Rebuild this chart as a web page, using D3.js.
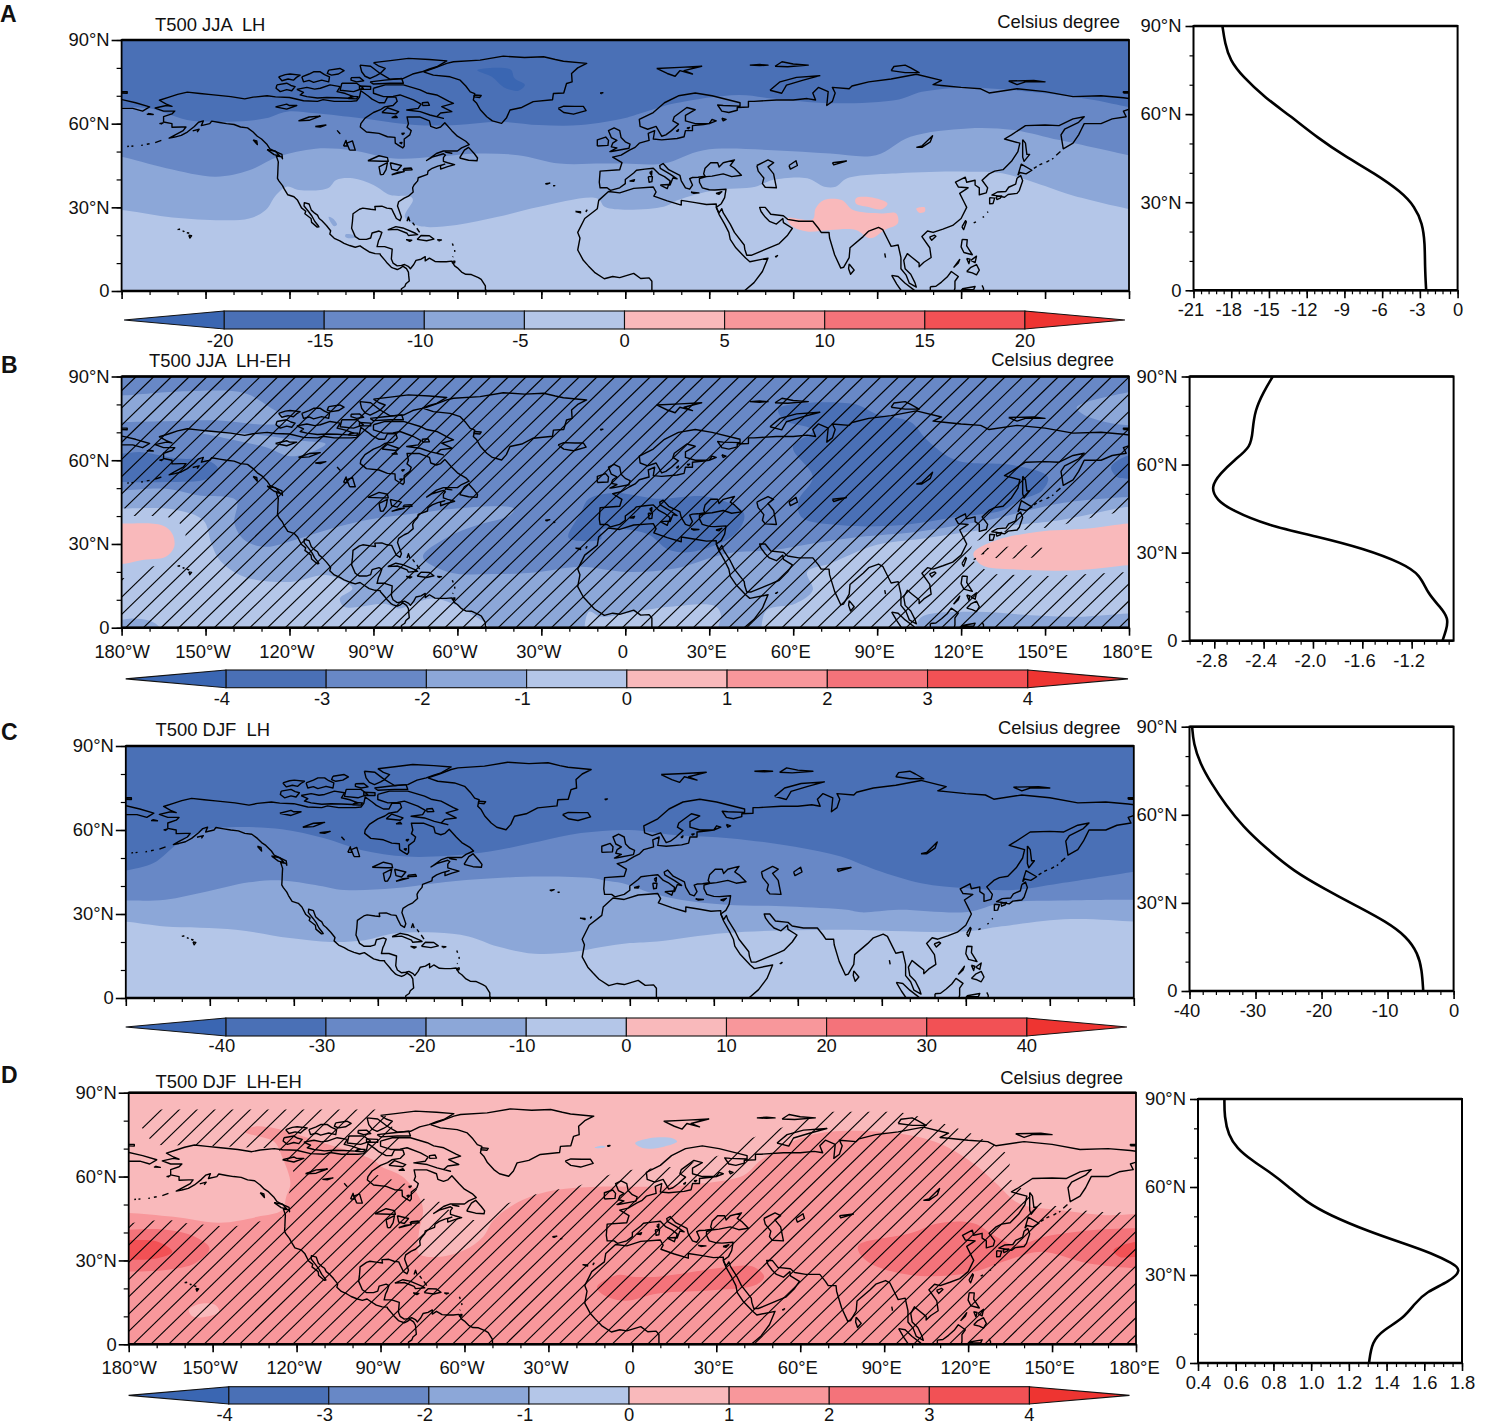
<!DOCTYPE html>
<html><head><meta charset="utf-8">
<script src="https://d3js.org/d3.v7.min.js"></script>
<style>
html,body{margin:0;padding:0;background:#fff}
text{font-family:"Liberation Sans",Arial,sans-serif;fill:#111;white-space:pre}
</style></head><body><div id="chart"></div>
<script>
// ---------- colour levels (tip, 8 bands, tip)
const levelColors=['#3a66b2','#4a70b6','#6888c6','#8ca7d8','#b4c6e8','#f9b9bb','#f8979b','#f4737a','#f25155','#ee3431'];
const DK=1,MD=2,ML=3,LT=4,P1=5,P2=6,P3=7,P4=8;

// ---------- coastlines [lon,lat]
const coastAmericas=[[-80.1,0],[-80,0.8],[-78.8,1.6],[-78.4,2.6],[-77.2,3.6],[-77.4,5.5],[-77.5,6.8],[-78.2,8],[-79.5,8.9],[-80.4,8.2],[-81.5,7.7],[-82.9,8.2],[-83.6,8.5],[-85.1,10],[-85.7,10.8],[-87.5,12.9],[-87.6,13.3],[-89.4,13.4],[-91.5,14],[-93.5,15.3],[-94.8,16.2],[-96.5,15.7],[-98.5,16.3],[-100.5,17.1],[-102,18],[-104,18.9],[-105.6,20.4],[-105.3,21.6],[-106.8,23.5],[-108.4,25.2],[-109.4,26],[-110,27.2],[-111,27.9],[-112.2,29],[-113,31.2],[-114.7,31.7],[-114.8,30.5],[-113.2,28.5],[-112,26.9],[-111,25],[-109.8,23.5],[-109.5,23],[-110.1,22.9],[-112.1,24.6],[-112.3,26],[-114.5,27.7],[-114.2,28.6],[-115.7,29.8],[-117.1,32.5],[-118.4,33.8],[-120.6,34.5],[-121.9,36.6],[-122.5,37.8],[-123.8,39.5],[-124.3,40.4],[-124.2,42],[-124.1,44.5],[-124,46.3],[-124.7,48.4],[-122.8,48.1],[-122.5,47.4],[-122.7,49],[-124.9,50],[-127,51],[-128,52.5],[-130,54.5],[-131.5,55.5],[-133,57],[-135,58.5],[-137.5,58.8],[-139.8,59.7],[-142.5,60],[-145,60.4],[-147.8,60.9],[-148.5,60],[-151.5,59.3],[-150.8,61],[-152.5,60.5],[-154,59],[-156.5,57],[-158.7,55.8],[-161,55.2],[-163,54.8],[-161,55.9],[-158,57.5],[-157,58.8],[-158.5,58.8],[-162,58.7],[-162,60],[-165,60.6],[-165,62.5],[-162,63.5],[-161,64.5],[-165,64.5],[-168,65.6],[-164,66.5],[-162,66.2],[-164,67],[-166.5,68.4],[-163,69.5],[-160,70.5],[-156.5,71.3],[-152,70.8],[-148,70.4],[-141,69.7],[-136,68.9],[-133,69.5],[-128,70],[-125,69.6],[-120,69.4],[-115,68.2],[-110,68],[-108,68.6],[-104,68],[-98,68],[-96,68.2],[-95,69.5],[-94.5,71.8],[-92,70],[-90.5,68.8],[-88,67.5],[-86,67.5],[-85,69.5],[-82,69.5],[-81.5,68],[-83,66.5],[-86,66],[-87.5,65],[-90,64],[-93,62],[-94.5,60],[-94.7,58.8],[-92.5,57],[-88,56.5],[-85,55.3],[-82.3,55.1],[-82.2,53],[-81,52.2],[-79.5,51.3],[-79,52],[-79,54.5],[-77,56],[-76.5,57.5],[-78,58.7],[-77.5,60],[-78,62.4],[-73.5,62.4],[-70,61],[-69.5,59],[-67.5,58.3],[-66,58.8],[-64.5,60.3],[-62,57.5],[-60,55.5],[-57,53.7],[-55.8,52.5],[-58.5,51.3],[-60,50.2],[-65,50.2],[-67.5,49.3],[-70,47.5],[-71,46.8],[-69,48],[-65,49.2],[-64.3,48.7],[-65,47.8],[-65,46.5],[-63.5,46],[-61,45.3],[-63.5,44.6],[-66,43.7],[-66,45],[-64.5,45.5],[-67,44.8],[-69,44],[-70.5,43],[-70.7,41.8],[-74,40.6],[-74.2,39.5],[-75.5,38],[-76,37],[-75.8,35.5],[-77.5,34],[-79,33.3],[-81,32],[-81.4,30.5],[-80.5,28],[-80,26.5],[-80.5,25.2],[-81.8,26],[-82.8,28],[-83.5,29.5],[-85.2,29.7],[-87,30.4],[-89.5,30.3],[-89.3,29.1],[-91,29.3],[-93.8,29.7],[-95,29.3],[-97.3,27.7],[-97.5,25],[-97.8,22.5],[-96.5,19.5],[-95,18.5],[-92.5,18.5],[-91,19],[-90.5,20.8],[-88,21.5],[-87,21],[-87.7,19],[-88.2,18],[-88.7,15.9],[-86,15.9],[-83.3,15],[-83.6,11.5],[-83,10],[-81.5,9],[-80,9.2],[-78.9,9.5],[-77.4,8.7],[-76.8,8],[-75.6,9.5],[-74.8,11],[-73,11.4],[-71.5,12.3],[-71.5,10.8],[-70,11.8],[-68,10.6],[-66,10.5],[-64,10.5],[-62,10.7],[-61,9],[-60,8.3],[-58.5,6.8],[-57,6],[-55,5.9],[-52.5,4.8],[-51.5,4.2],[-50,1.8],[-50,0.5],[-49.5,0]];
const coastEurasia=[[32.5,30],[34.3,31.3],[35.5,33.5],[36,36.5],[32,36.2],[30,36.3],[27.5,37],[26.5,39],[26.5,40.3],[29,41],[31,41.2],[35,42],[38,41],[41.5,41.5],[39,44],[37.5,45],[39,47],[35,46],[33.5,44.5],[33,46],[30.5,46],[28.5,44],[28,42],[28.5,41.2],[26,40.8],[24,40.7],[23,40.3],[24,38],[23,36.5],[21.5,37],[20,39.5],[19.5,41.5],[15.5,43.5],[13.5,45.7],[12.3,45],[12.5,44],[16,41.9],[18.5,40.2],[17,40.5],[16,38],[15.7,38],[16,39.5],[14,41],[12,42],[10,44],[7,43.7],[4,43.3],[3,42.3],[0,40],[0,38.5],[-2,37],[-5.3,36.1],[-6.5,37],[-9,37],[-9.3,39],[-9,43],[-2,43.5],[-1.2,46],[-4.5,48],[-1.5,48.7],[1.5,50.5],[3.5,51.5],[5,53],[8.5,54],[8.2,56.5],[10.5,57.5],[10,54.5],[13,54.2],[18.5,54.7],[21,55.3],[21.5,57.5],[24,57.5],[24,59.3],[28,59.7],[30,60],[25,60],[21.5,61],[21.5,63],[25,65],[22,65.8],[17.5,62.5],[17,61],[19,59.8],[16.5,57.5],[14.5,56],[13,55.5],[11,59],[8,58],[5.3,59],[5,61.5],[10,64],[14,67.5],[19,70],[25,71],[31,70],[41,67.5],[41,66.3],[35,66.5],[33,66.7],[34.5,64.5],[37,64],[40,64.8],[40,65.8],[44,66],[44,68],[46,68],[54,68.5],[60,68.5],[65,69],[68,68.5],[67,71],[69,73],[72.5,71.5],[72,66.5],[74,68],[75,71],[74,73],[80,72.5],[81,73.5],[87,75],[95,76],[104,77.7],[113,75.5],[110,74],[113,73.7],[120,73],[127,72.5],[130,71],[140,72.5],[150,71.5],[160,69.7],[170,70],[178,69.3],[181,68.9]];
const coastChukotkaWest=[[-181,68.9],[-175,67.5],[-170,66],[-172.5,64.5],[-176,65.5],[-181,65.5]];
const coastPacificAsia=[[181,65.5],[178,64.5],[179,62.5],[174,61.7],[170,60],[164,60],[163,58],[162,56],[160,53],[156.5,51],[155.7,56],[157,58],[162,60.5],[164,62.5],[160,61.7],[155,59.3],[150,59.5],[143,59.3],[138,56],[135.5,54.5],[141,53],[140.3,50],[138,46.5],[135,43.5],[132,43],[130,42],[127.5,39.7],[129.5,37],[129,35.2],[126.5,34.5],[126.5,37],[125,38],[125,39.7],[122,39],[121.5,40.8],[118,39],[119,37.3],[122.5,37],[119.5,35],[121,32],[122,30],[120,26],[117,23.5],[113.5,22.2],[110,21],[108,21.5],[106,19.5],[108.8,15.5],[109.3,12],[106.7,10.3],[105,8.7],[105,10],[102.5,12],[100.8,13.4],[99.5,11],[100,8],[102,6],[103.5,3],[104,1.4],[101.5,2.8],[100.3,5.8],[98.5,8],[98.5,12],[97.5,16.5],[95,16],[94,18],[92,22],[90.5,22.8],[87,21.5],[85,19.5],[80.3,15.5],[80,12],[78,8.5],[77,8.2],[74.8,13],[73,19],[72.8,21],[70,21],[69,22.5],[67,25],[62,25],[58,25.7],[56.5,27],[52,27.5],[50,30],[48,30],[48.5,28.5],[50,26.5],[51.5,25],[54,24],[56.3,26],[56.5,24.5],[59.7,22.5],[58,20],[55,17],[52,15.7],[45,12.8],[43.4,12.8],[42.7,15],[42.5,16.5],[39,21],[37.5,24],[35,28],[34.5,29.5],[33.5,28],[32.5,30]];
const coastAfrica=[[42.5,0],[46,3],[49,7],[51,11.8],[44.5,10.5],[43,11.8],[39.5,15.5],[37.5,18.5],[37,21],[35.5,24],[33.5,27.5],[32.5,30],[32.5,31.2],[29,31],[25,31.7],[20,32.5],[20,30.8],[15,32.3],[10.2,34],[11,35.5],[10,37.3],[3,36.8],[-2,35.2],[-6,35.7],[-9.5,32.5],[-10,29.5],[-14.5,26],[-17,21],[-16.2,19],[-17,14.7],[-15,11],[-13.2,9],[-11,6.7],[-7.5,4.4],[-4.5,5.2],[-2,4.8],[3,6.3],[5.5,4.5],[8.5,4.7],[9.5,3.5],[9.5,0]];
const islandsArctic=[
 [[-123.9,76.8],[-121.5,77.6],[-119.8,77.8],[-116.2,77.4],[-117.5,76.6],[-118.6,75.6],[-120.5,76],[-122.7,75.4],[-123.9,76.8]],
 [[-115.6,76.8],[-113,77.8],[-111.4,78.6],[-109,78.6],[-107.5,77.6],[-105.7,76.8],[-106,75],[-108.5,75.6],[-111.4,74.8],[-113,75.5],[-115,75],[-115.6,76.8]],
 [[-124.5,73.9],[-121,74.5],[-119.5,73.7],[-118,73.3],[-119.2,71.8],[-121,72.2],[-123.3,71.5],[-124.8,72.7],[-124.5,73.9]],
 [[-117.4,72.3],[-113.8,73],[-111,72.4],[-109,72.7],[-105.5,73.9],[-101.9,73.3],[-103,71.5],[-100,70.8],[-97.1,69.7],[-99,69.1],[-103,69.3],[-106.7,69.4],[-110,69.2],[-113.8,69.7],[-116.2,70.3],[-115,71.2],[-117.4,72.3]],
 [[-106,79.2],[-102,79.8],[-100.5,79],[-102.5,77.8],[-105,77.4],[-106.5,78],[-106,79.2]],
 [[-94.8,81],[-91,80.6],[-87.6,78],[-89,77.2],[-91.2,76.2],[-93,77],[-94.2,78.6],[-94.8,81]],
 [[-90,81.9],[-84,82.6],[-77.5,83.4],[-70,83],[-63.8,82.5],[-67.4,80.4],[-70,79.6],[-72.7,78.6],[-76,77.8],[-79.3,76.2],[-84,75.9],[-87.6,78],[-85.8,79.8],[-88,80.6],[-90,81.9]],
 [[-91.2,75],[-86,75.6],[-79.9,76.2],[-79.3,74.5],[-84,74.5],[-90,74.2],[-91.2,75]],
 [[-98,76.5],[-95,76.6],[-93.5,75.4],[-96,75],[-98,75.6],[-98,76.5]],
 [[-101.3,74.5],[-96,74.5],[-93.6,72.7],[-97.1,71.5],[-101.9,72],[-101.3,74.5]],
 [[-90,72.7],[-85.8,73.9],[-79.3,73.9],[-73.3,72.1],[-71,71],[-67.4,70.3],[-63,68],[-61.4,67.3],[-65.6,66.1],[-62,64.3],[-66,63.8],[-67.4,62.5],[-65,61.9],[-69.8,63.1],[-73.3,64.3],[-78.1,64.9],[-74,65.5],[-73,67],[-75.7,68.5],[-80.5,70.3],[-83,69.8],[-86.4,69.7],[-90,70.9],[-90,72.7]],
 [[-72.5,66.5],[-70,66.6],[-70.5,67.7],[-72.5,67.5],[-72.5,66.5]],
 [[-95,72.3],[-91,72.3],[-91,73.3],[-95,73.5],[-95,72.3]],
 [[-87,64],[-82,63.5],[-81,64.3],[-85,65.7],[-87,64]],
 [[-99,69],[-96,68.9],[-95.5,69.7],[-98,69.8],[-99,69]],
 [[-83.5,62.2],[-82,62.8],[-81.5,62.2],[-83.5,62.2]],
 [[-80.7,53.2],[-79.8,53.3],[-80,52.8],[-80.7,53.2]],
 [[-80,56.5],[-79,56.6],[-79.5,56.1],[-80,56.5]],
 [[-72.1,78.6],[-68.6,77.4],[-62.6,76.8],[-59,75.6],[-57,73.5],[-55.4,71.4],[-53.8,70.8],[-54.3,68.5],[-53.1,67.3],[-51.8,65],[-49.5,62.5],[-47.5,61],[-44.2,60.1],[-42.5,62],[-41.2,64.9],[-37,65.8],[-32.9,67.9],[-26,68.6],[-25.7,70.8],[-22,71],[-21,74.4],[-19,75],[-19.2,78],[-17,80],[-13.8,81.6],[-22.1,82.4],[-25,83],[-29.2,84],[-36,83.7],[-43.6,84.2],[-51.9,82.8],[-61.4,82.2],[-63.8,81.6],[-68,80],[-72.1,78.6]],
 [[-54,70.3],[-51.5,70.1],[-52,69.4],[-54,69.6],[-54,70.3]],
 [[-24,65.5],[-22,64],[-18.5,63.4],[-14,64.7],[-15,66.2],[-18,66.2],[-22,66.3],[-24,65.5]],
 [[-9,71],[-8,71.1],[-8.5,70.8],[-9,71]],
 [[11.2,79.8],[15,78],[17.8,77],[19.5,79],[24,77.8],[21,79],[27.3,80.6],[19.5,80.2],[11.2,79.8]],
 [[51.7,72],[55.3,75],[61.2,76.6],[69.5,77.2],[63.6,75.6],[57.6,73.8],[55.9,70.9],[51.7,72]],
 [[44.5,81],[48,80.8],[51,81],[48,81.2],[44.5,81]],
 [[53.5,80.6],[58,80.4],[65.4,81],[60,81.4],[56,82.2],[53.5,80.6]],
 [[95,79],[100,78.3],[105,78.3],[102,80],[100,81],[96,80.5],[95,79]],
 [[137,75.3],[140,74],[143,75],[150,75],[146,75.5],[137,75.3]],
 [[-181,71],[-178,70.9],[-178,71.5],[-181,71.5]],
 [[178,71],[181,71],[181,71.5],[178,71.5],[178,71]]];
const islandsAtlanticEurope=[
 [[-59.2,47.7],[-56,46.9],[-53,46.7],[-52.8,47.7],[-54,49.3],[-56,51.5],[-57.5,50.5],[-59.2,47.7]],
 [[-64.5,49.9],[-62,49.4],[-63.5,49.6],[-64.5,49.9]],
 [[-5,50],[1.3,51.2],[1.7,52.7],[0,53.5],[-1.5,55],[-2,57.5],[-4,58.5],[-6,57.5],[-5,55],[-3,54],[-4.5,53],[-5,51.7],[-3,51.3],[-5.5,50],[-5,50]],
 [[-10,52],[-6.2,52.2],[-6,54],[-7,55.2],[-10,54.2],[-10,52]],
 [[12.5,38],[15.5,38.2],[15,36.7],[12.5,38]],
 [[8.2,41],[9.7,41],[9.5,39.2],[8.5,39],[8.2,41]],
 [[8.7,42.5],[9.5,43],[9.4,41.5],[8.7,42.5]],
 [[1.5,39.4],[3.3,39.9],[3,39.3],[1.5,39.4]],
 [[23.5,35.4],[26.3,35.2],[24.5,35],[23.5,35.4]],
 [[32.4,35],[34.5,35.6],[33.5,34.7],[32.4,35]],
 [[18.2,57.3],[19,57.9],[18.8,57.3],[18.2,57.3]],
 [[22,58.5],[23,58.6],[22.5,58.2],[22,58.5]],
 [[-17.8,28.5],[-16,28.4],[-16,28],[-17.8,28.5]],
 [[-14,28.9],[-13.7,29],[-14,28.5],[-14,28.9]],
 [[-28.6,38.5],[-27,38.7],[-28,38.3],[-28.6,38.5]],
 [[-25.8,37.8],[-25.2,37.8],[-25.5,37.7],[-25.8,37.8]],
 [[54,12.5],[54.4,12.7],[54,12.3],[53.7,12.3],[54,12.5]]];
const islandsCaribPacific=[
 [[-84.9,21.9],[-82,23.1],[-79.5,22.6],[-75,20.7],[-74.2,20.2],[-77.5,19.9],[-78,20.7],[-81.5,22.1],[-84.9,21.9]],
 [[-74.4,18.5],[-73,19.9],[-70,19.8],[-68.4,18.6],[-71,18],[-74.4,18.5]],
 [[-78.3,18.4],[-76.3,18.2],[-77,17.8],[-78.3,18.4]],
 [[-67.2,18.4],[-65.7,18.3],[-66.5,18],[-67.2,18.4]],
 [[-61.8,17],[-61.5,16.2]],[[-61,14.7],[-60.9,14]],[[-61.7,12.2],[-61.5,12.4]],
 [[-61.5,10.7],[-60.9,10.7],[-61,10.1],[-61.8,10.1],[-61.5,10.7]],
 [[-78,25],[-77.5,26.5],[-77,25]],
 [[-76,24.5],[-75.3,23.5]],[[-74.5,22.5],[-73.5,21]],
 [[-160,22],[-159.3,22.2],[-159.4,21.9]],
 [[-158.2,21.5],[-157.7,21.4],[-158,21.3]],
 [[-156.7,20.9],[-156,20.8],[-156.4,20.6]],
 [[-156,20],[-155,19.8],[-155.6,19],[-156,20]],
 [[-176.5,51.9],[-175.8,52]],[[-178,51.8],[-177.4,51.9]],[[-173,52.2],[-172.4,52.3]],[[-171,52.6],[-170,52.8]],[[-168,53.2],[-165.8,54]],
 [[-154.6,57.4],[-152.3,58],[-153,57]],
 [[-133,54.2],[-131.7,53.8],[-131.5,52.5],[-133,54.2]],
 [[-128,50.7],[-125,50.1],[-123.5,48.4],[-125.5,48.9],[-128,50.7]],
 [[-170.5,63.7],[-168.7,63.3],[-171,63.4]],
 [[-166.5,60],[-165.2,60.3],[-166,59.8]]];
const islandsAsia=[
 [[142,54.3],[143,53],[143.5,49],[144.5,49],[142.5,46.5],[142,48],[142,51],[142,54.3]],
 [[140.3,41.5],[141.5,45.5],[145.3,43.3],[143.2,42],[141,42.5],[140.3,41.5]],
 [[140,40.5],[141.3,41.4],[142,39.5],[140.8,36],[140,35],[136.8,34.6],[135.5,33.6],[132.5,34.2],[131,34.4],[133,35.5],[136,35.7],[137,37.2],[139.5,38.3],[140,40.5]],
 [[130.2,33.5],[132,33.3],[131.4,31.4],[130.2,31.3],[130.2,33.5]],
 [[132.5,33.8],[134.5,34.1],[134,33.3],[132.8,32.8],[132.5,33.8]],
 [[146,44],[147,44.6]],[[148,45.2],[149,45.7]],[[150.5,46.2],[151.5,46.8]],[[152.5,47.3],[153,47.6]],[[154,48.7],[155.5,50]],
 [[127.7,26.4],[128.2,26.7]],[[129.3,28.2],[129.7,28.4]],[[124.5,24.4],[125.3,24.8]],
 [[120.3,23],[121.6,25.2],[121.9,24.8],[120.9,22],[120.3,23]],
 [[108.7,19.3],[110.5,20],[111,19.6],[109.5,18.2],[108.7,19.3]],
 [[120.4,18.5],[122.2,18.4],[122,16.2],[124,13],[121,13.8],[120,15.8],[120.4,18.5]],
 [[123.5,11],[125.5,12.5],[125,10.2],[123.5,11]],
 [[122,11.7],[123.2,11.4],[122.8,9.8],[122,11.7]],
 [[122,7],[123.5,8.5],[125.5,9.5],[126.5,7.5],[125.5,5.8],[124,6.5],[122,7]],
 [[117.3,8.4],[119.5,11.3],[119,10],[117.3,8.4]],
 [[109,1.5],[111,1.7],[113,3.2],[115,5],[116.5,7],[119,5.2],[117.8,3.5],[117.8,1],[117.5,0]],
 [[109,0],[109,1.5]],
 [[95.2,5.6],[97.5,5.2],[100,2.8],[103,0.5],[103.5,0]],[[98.7,0],[97,2.5],[95.2,5.6]],
 [[120,0],[120.5,0.8],[125,1.6],[124.5,0.5],[120,0.5]],
 [[127.5,2],[128,1],[128,0]],
 [[80,9.7],[81.8,7.5],[80.5,6],[79.8,8],[80,9.7]],
 [[92.7,13.5],[93,12]]];
const lakes=[
 [[47,45],[51,47],[53,46],[51,44.5],[53,42],[53.5,39.5],[54,37],[50,37.2],[49,38.5],[49.5,40.5],[47.5,43],[47,45]],
 [[58.5,45],[61,46.7],[61.5,45],[59,43.7],[58.5,45]],
 [[104,51.5],[106,52],[109.8,55.7],[109,53.5],[106,51.5],[104,51.5]],
 [[74,46],[79,46.6],[74.5,45.2],[74,46]],
 [[30,60],[32.5,61],[31,61.5],[30,60]],[[34.5,62],[36,61.5],[35,61],[34.5,62]],
 [[-92,46.7],[-88,48.5],[-85,47.8],[-84.7,46.5],[-87,46.5],[-92,46.7]],
 [[-87.5,41.7],[-88,44.5],[-85,46],[-85.5,43.5],[-86.5,41.8],[-87.5,41.7]],
 [[-84,46],[-80,45],[-81.5,43.2],[-83.5,43.7],[-84,46]],
 [[-83.5,41.7],[-79,42.8],[-81,42.6],[-83.5,41.7]],
 [[-79.5,43.3],[-76.2,43.5],[-76.5,44.1],[-79,43.9],[-79.5,43.3]],
 [[-98.5,50.5],[-96.5,50.5],[-97.5,53.8],[-99.5,53],[-98.5,50.5]],
 [[-100.7,52],[-99.8,54],[-99.3,52],[-100.7,52]],
 [[-116.8,61],[-113,61.2],[-109,62.7],[-113,62.4],[-116.8,61]],
 [[-125,66],[-121,65.2],[-117.4,66.5],[-120,66.5],[-121,67],[-125,66]],
 [[-110.8,59],[-107,59.5],[-109,58.8],[-110.8,59]],
 [[-103,57.6],[-102,56.5],[-102.5,57]]];
const allCoasts=[coastAmericas,coastEurasia,coastChukotkaWest,coastPacificAsia,coastAfrica,...islandsArctic,...islandsAtlanticEurope,...islandsCaribPacific,...islandsAsia,...lakes];

// ---------- panel A contours
const aBound5=[[-186,29],[-180,29],[-164,26.6],[-146.3,25.4],[-134.4,26],[-128.5,29],[-124.8,34.4],[-121,37.4],[-116.6,36.2],[-106.3,36.8],[-103.3,39.8],[-97.4,40.4],[-90,38],[-84,34.4],[-76.6,33.8],[-75.9,32.6],[-78.8,26.6],[-73.6,23.3],[-60.3,23.7],[-45.5,26.6],[-30.7,30.2],[-10,33.2],[-7,30],[13.7,30.2],[18.9,32.6],[32.2,36.2],[46.5,37.4],[52.7,39.8],[65,40.4],[71.1,37.4],[75.2,37.4],[79.3,40.4],[97.8,42.2],[122.4,42.8],[134.7,42.2],[147,38.6],[159.3,34.4],[180,29.4],[186,28.5]];
const aBound10=[[-186,49],[-180,48.1],[-164,44],[-146.3,41],[-134.4,43.3],[-124,48.1],[-110.7,51],[-97.4,50.4],[-82.6,47.5],[-67.8,48.1],[-53,49.3],[-38.3,48.7],[-23.5,45.7],[-8.4,45.7],[-0.6,45.7],[13.7,45.7],[28,50.5],[52.7,50.5],[73.2,49.3],[89.6,48.7],[101.9,55.3],[122.4,58.3],[138.8,57.7],[155.2,54.1],[179.8,48.7],[186,47.5]];
const aBound15=[[-186,66.5],[-180,66],[-170,65.5],[-164,63.7],[-156.6,61.3],[-141.8,60.7],[-128.5,61.9],[-121,64.3],[-110.7,63.7],[-94.4,61.9],[-75,59.5],[-60.3,59.5],[-45.5,60.7],[-30.7,59.5],[-15.9,59.5],[0,62],[5.5,63.7],[17.8,67.3],[40.4,70.3],[52.7,69],[73.2,67.3],[97.8,68.7],[106,71.4],[122.4,73],[134.7,72.3],[151,70.8],[167.5,68.5],[179.8,66],[186,65]];
const aGreenlandCore=[[-52.9,79.2],[-41,79.4],[-39.6,76.3],[-35.9,73.9],[-38.2,71.8],[-43.3,73],[-47.7,76.8]];
const aMexicoSpotN=[[-106,26.6],[-104.5,26],[-103,23.8],[-104,23.2],[-105.5,25]];
const aMexicoSpotS=[[-100,20.3],[-97.5,20.2],[-96.5,19.4],[-98.5,18.9],[-100,19.4]];
const aPinkMain=[[57.8,26],[67,25.7],[68,29.6],[71,32.6],[77.3,32.6],[81.4,29],[91.6,27.8],[96.8,27.8],[97.4,24.3],[92.7,21.9],[87.5,18.9],[82.4,21.9],[73.2,21.9],[65,21.3],[59.9,23]];
const aPinkNorth=[[82.4,33.2],[87.5,33.6],[93.7,31.4],[91.6,29.3],[86.5,30.2],[82.4,31.4]];
const aPinkEast=[[104,29.6],[107,30],[107,28.4],[105,28.1]];

// ---------- panel B contours
const bRegion3=[[-186,96],[186,96],[186,46.8],[179.8,46.8],[155.2,44.5],[134.7,39.7],[122.4,37.3],[103.9,34.3],[83.4,32.5],[67,30.2],[52.7,27.8],[36.3,26.6],[17.8,21.2],[0,20],[-16,21.8],[-30.8,20],[-45.6,19.2],[-63.4,20],[-72.3,25.4],[-63.4,32.5],[-53,36.7],[-41.2,40.3],[-39.7,42.7],[-47.1,43.5],[-60.4,42.7],[-75.3,40.9],[-93,38.5],[-104.9,35.5],[-116.7,31.9],[-128.6,29],[-136,31.3],[-139.7,37.3],[-139,45.6],[-152.3,47.4],[-164.2,49.8],[-180,49.2],[-186,49.2]];
const bLightWest=[[-186,42.7],[-180,42.7],[-161,42.3],[-150.8,38.5],[-147.9,30.2],[-144.9,24.2],[-136,18.2],[-119.7,16.4],[-106.4,18.8],[-97.5,14.1],[-102,10.5],[-100.4,7.5],[-85.6,8.5],[-81.2,6.9],[-69.3,10.5],[-60.4,8.1],[-55.3,5.1],[-48.6,0],[-48.6,-6],[-166.4,-6],[-166.4,0],[-170,2.5],[-176,3.3],[-186,3.3]];
const bLightEast=[[186,43.3],[179.8,43.3],[155.2,38.5],[138.8,36.7],[122.4,34.3],[106,31.9],[89.6,29.6],[73.2,23],[65,20],[67,13.5],[60.9,8.7],[50.6,6.3],[48.6,0],[48.6,-6],[103.9,-6],[103.9,0],[106,3.9],[124.4,5.7],[144.9,4.5],[161.3,3.9],[179.8,5.1],[186,5.1]];
const bLightAfrica=[[-13,5.7],[-8.6,3.9],[0,5.1],[15.8,7.5],[32.2,7.7],[34.2,4.5],[33.2,0],[33.2,-6],[-13,-6]];
const bMidArcticWest=[[-186,83.2],[-180,83.2],[-156.7,84.7],[-136,84],[-127,79],[-119.7,73.7],[-128.6,72.8],[-146.4,74.3],[-164.2,74],[-180,73.7],[-186,73.7]];
const bMidAlaska=[[-152.3,70],[-134.5,69.5],[-116.7,67.1],[-107.1,65.9],[-110.8,63.5],[-119.7,61.4],[-128.6,64.7],[-143.4,68]];
const bMidSiberia=[[161.3,79],[179.8,84.4],[186,85],[186,72.5],[179.8,72.5],[171.6,73.7],[163.4,76.6]];
const bDarkGulf=[[-186,62.3],[-180,62.3],[-173,62.9],[-159.7,60.6],[-149.3,60],[-145.6,57],[-149.3,53.4],[-164.2,52.2],[-180,52.2],[-186,52.2]];
const bDarkDateline=[[186,61.7],[179.8,61.7],[173.6,57.6],[175.7,54],[179.8,53.4],[186,53.4]];
const bDarkEurasia=[[54.7,78.4],[81.4,80.2],[89.6,76.6],[101.9,73.7],[108,67.1],[118.3,60],[138.8,58.2],[151,54],[149,49.2],[140.8,45.6],[134.7,42],[118.3,39.7],[97.8,36.7],[77.3,36.7],[62.9,39.7],[61.9,45.6],[67,54],[59.9,64.7],[67,70.7],[56.8,74.3]];
const bDarkEurope=[[-20.4,32.5],[-16,40.9],[-13,46.2],[-4.1,48.3],[0,48],[11.7,46.2],[30.1,46.8],[42.4,40.9],[39.4,33.7],[24,27.2],[15.8,27.8],[7.6,33.7],[-8.8,34.9],[-8.6,31.9],[-18.2,31.3]];
const bPinkWest=[[-186,37.3],[-180,37.3],[-165.6,36.7],[-161.9,33.7],[-161.2,29],[-164.2,25.4],[-173,24.2],[-180,22.8],[-186,22.8]];
const bPinkEast=[[186,37.3],[179.8,37.3],[165.4,35.5],[147,34.3],[132.6,31.3],[124.4,26.6],[127.5,22.4],[138.8,20.9],[161.3,20.6],[179.8,22.4],[186,22.4]];
const bHatchGapWest=[[-186,44],[-180,44],[-176.6,40],[-164.4,40],[-159.6,38],[-157.2,33.9],[-156.9,27.8],[-161.4,23.3],[-169.1,21.9],[-176.9,17.1],[-180,18],[-186,18]];
const bHatchGapEast=[[186,42.1],[179.8,42.1],[165.4,39.1],[153,36.1],[134.7,34.2],[124.4,30.7],[122.4,25.4],[130.6,19.2],[151,18.5],[179.8,20],[186,20]];
const bHatchBack=[[126.5,28.4],[145,29.6],[150,28.4],[149,25.2],[133.7,24.6],[126.5,26.4]];

// ---------- panel C contours
const cBound10=[[-186,27.2],[-180,27.2],[-165.9,25.5],[-140.7,24.4],[-121.4,21.4],[-106.6,20],[-94.7,20.6],[-84.2,23],[-69.4,23.4],[-57.6,22],[-47.2,18.4],[-33.9,15.8],[-20.5,16.4],[-10.1,18.2],[0,19.6],[9.8,20.2],[34.4,23.2],[71.3,24.4],[120.5,23.8],[132.8,25.6],[157.4,28.2],[180,27.3],[186,27]];
const cBound20=[[-186,34.8],[-180,34.8],[-165.9,35.1],[-151,38],[-136,41.3],[-124.2,42],[-112.3,40.4],[-102,38.6],[-84.2,39.2],[-69.4,41],[-54.5,42.4],[-32.3,43.4],[-13,42.8],[-9,42],[-2.5,41],[7.8,37.5],[18,35.1],[34.4,33.3],[57,32.7],[77.5,31.5],[82.6,30.6],[95.9,31.5],[120.5,30.7],[132.8,33.9],[153.3,34.8],[180,35.1],[186,35]];
const cBound30=[[-186,44.5],[-180,45.5],[-170.1,48.2],[-161.2,55.3],[-152.3,59.8],[-142.7,61],[-124.2,60.3],[-109.4,57.1],[-96,52.9],[-79.7,50.5],[-64.9,50.8],[-50.1,52.3],[-32.3,55.9],[-17.5,58.9],[0,60],[16,58.2],[36.5,57],[59,54],[75.4,50.5],[87.7,45.8],[104.1,41],[120.5,39.2],[136.9,38.6],[153.3,40.9],[180,45.1],[186,46]];

// ---------- panel D contours
const dRegion2=[[-186,47],[-180,47],[-164,45.6],[-147.4,43.5],[-134,45.6],[-125.2,48],[-123.7,52.8],[-122.2,57.6],[-125.2,67.1],[-128.1,72.5],[-138.5,76],[-135.5,77.8],[-127.4,77.2],[-112,72.5],[-92.6,65.9],[-89.6,63.5],[-82.2,60],[-76.3,52.8],[-74.8,48],[-76.3,39.7],[-76.3,32.5],[-68.9,31.3],[-60,33.7],[-53.3,38.5],[-49.6,44.5],[-39.3,51.6],[-27.4,55.2],[-12.6,56.4],[9.2,56.4],[25.6,57.6],[39.9,60.5],[46,65.9],[58.4,73],[70.7,76],[95.2,75.4],[109.6,71.9],[121.9,64.7],[130,57.6],[138.2,50.4],[152.6,48],[169,46.2],[180,46.6],[186,46.6],[186,-6],[-186,-6]];
const dLightSpot=[[-158.5,12.3],[-154.8,14.4],[-148.9,14],[-147.7,11.6],[-151.9,9.9],[-157,9.9]];
const dBlueOval=[[1,71.9],[6.1,73.7],[14.3,73.7],[16,72.5],[11.3,70.7],[4.1,70.1]];
const dBlueSliver=[[-13.5,70.3],[-11,71],[-9.5,70.7],[-11,70.2]];
const dBandWest=[[-186,41],[-180,41],[-166.7,41],[-156.3,38.5],[-151.1,34.3],[-156.3,29],[-166.7,26.6],[-180,26],[-186,26]];
const dBandAfrica=[[-12.6,20.6],[-5.2,24.8],[0,24.2],[9.2,24.2],[32.8,27.5],[43,27.8],[47.1,24.2],[44,21.2],[29.7,19.4],[9.2,18.2],[-3,15.6],[-11.1,18.2]];
const dBandAsia=[[80.9,35.5],[99.3,39.7],[109.6,43.3],[121.9,43.3],[130,38.5],[137.2,35.5],[147.4,38.5],[164.9,40.9],[180,41.5],[186,41.5],[186,27.2],[180,27.2],[162.8,29],[146.4,33.1],[136.2,30.8],[119.8,25.4],[99.3,24.8],[85,29],[80.9,33.1]];
const dCoreWest=[[-186,37.3],[-180,37.3],[-169.6,36.7],[-164.4,33.1],[-169.6,30.8],[-180,30.2],[-186,30.2]];
const dCoreEast=[[186,36.7],[180,36.7],[172,33.7],[174,31.3],[180,31.3],[186,31.3]];
const dHatchArea=[[-186,-6],[-186,43.3],[-180,43.3],[-166.7,44.7],[-159.3,43.3],[-143,42],[-125.2,45.6],[-123.7,50.4],[-122.2,55.8],[-120.7,61],[-123.7,66],[-126.7,70],[-151.9,71],[-171,71.3],[-176.3,79],[-171,84],[-89.6,84],[-82.2,71.9],[-89.6,67],[-92.6,61],[-77.8,56.4],[-74,51.6],[-68.9,51],[-61.5,44.5],[-53.3,44.5],[-46.4,49.8],[-35.6,53.4],[-28.1,55.2],[-20,56.4],[-10.4,60],[-2.2,62.3],[15.4,63.5],[34.8,68.5],[42.4,73.7],[69.6,83.2],[95.2,83.2],[107.5,80.2],[119.8,76],[130,70.9],[135.4,67.1],[134,60],[144.4,51],[152.6,49.2],[164.9,47.4],[180,47.1],[186,47.1],[186,-6]];

// ---------- zonal-mean profiles: latitude and value
const profALat=[90,84.1,78.4,72.8,65.4,59.7,51.8,45.5,39.8,33.6,28.5,22.8,16,8,0];
const profAVal=[-18.7,-18.5,-18.1,-17.1,-15.25,-13.4,-11.1,-8.9,-6.6,-4.5,-3.4,-2.8,-2.6,-2.6,-2.5];
const profBLat=[90,84.8,78.5,71.7,66,61.5,57,52.4,47.9,44.5,39.4,35.4,31.4,26.3,22.4,16.1,11.6,7.6,3.6,0];
const profBVal=[-2.326,-2.4,-2.47,-2.49,-2.5,-2.64,-2.75,-2.83,-2.78,-2.66,-2.38,-1.96,-1.59,-1.27,-1.13,-1.07,-0.97,-0.9,-0.92,-0.95];
const profCLat=[90,84.3,77.5,70.7,63.3,56,48.6,40.6,35,28.7,23.6,18.5,12.8,7.2,0];
const profCVal=[-39.6,-39.4,-38.4,-36.7,-34.5,-31.9,-28.4,-24.1,-19.7,-14.5,-10.2,-7.1,-5.4,-4.8,-4.6];
const profDLat=[90,84,77.7,73.2,69.2,64.7,60.1,55,50.5,44.8,40.8,37.4,34,31.7,27.7,24.3,20.3,15.2,11.25,7.3,0];
const profDVal=[0.54,0.54,0.561,0.607,0.683,0.79,0.88,0.972,1.094,1.307,1.49,1.64,1.748,1.8,1.733,1.611,1.55,1.49,1.383,1.322,1.307];

// ---------- axis values
const lonMajor=d3.range(-180,181,30), lonMinor=d3.range(-180,181,10);
const latMajor=[0,30,60,90], latMinor=d3.range(0,91,10);
const cbarA=[-20,-15,-10,-5,0,5,10,15,20], cbarB=[-4,-3,-2,-1,0,1,2,3,4], cbarC=[-40,-30,-20,-10,0,10,20,30,40];
const lonLabel=d=>d===0?'0':Math.abs(d)+'°'+(d<0?'W':'E');
const latLabel=d=>d===0?'0':d+'°N';
const hyphen=f=>d=>f(d).replace('\u2212','-');

// ---------- panels (layout + references to the data)
const panels=[
{letter:'A',letterXY:[0,22],title:'T500 JJA  LH',titleXY:[155,30.5],unitXY:[1120,28],
 map:[121.6,1129,40,291],lonLabels:false,base:LT,
 above:[[aBound5,ML],[aBound10,MD],[aBound15,DK]],
 rings:[[aGreenlandCore,0],[aMexicoSpotN,ML],[aMexicoSpotS,ML],[aPinkMain,P1],[aPinkNorth,P1],[aPinkEast,P1]],
 cbar:{levels:cbarA,y:[311,329],tips:[124,1125],labelY:340},
 prof:{lat:profALat,val:profAVal,box:[1193.5,1457.6,26,290.3],dom:[-21,0],major:d3.range(-21,1,3),minor:d3.range(-21,0.01,0.6),fmt:hyphen(d3.format('d'))}},
{letter:'B',letterXY:[1,372.7],title:'T500 JJA  LH-EH',titleXY:[149,367],unitXY:[1114,365.7],
 map:[121.6,1129,376.5,627.7],lonLabels:true,base:ML,
 rings:[[bRegion3,MD],[bMidArcticWest,ML],[bMidAlaska,ML],[bMidSiberia,ML],[bLightWest,LT],[bLightEast,LT],[bLightAfrica,LT],[bDarkGulf,DK],[bDarkDateline,DK],[bDarkEurasia,DK],[bDarkEurope,DK],[bPinkWest,P1],[bPinkEast,P1]],
 hatch:{gaps:[bHatchGapWest,bHatchGapEast,bHatchBack],start:125.7},
 cbar:{levels:cbarB,y:[670,687.7],tips:[125.7,1128],labelY:698},
 prof:{lat:profBLat,val:profBVal,box:[1189.6,1453.6,376.5,640.7],dom:[-3,-0.86],major:[-2.8,-2.4,-2,-1.6,-1.2],minor:d3.range(-3,-0.89,0.1),fmt:hyphen(d3.format('.1f'))}},
{letter:'C',letterXY:[1,740],title:'T500 DJF  LH',titleXY:[155.6,736],unitXY:[1120.6,734],
 map:[125.8,1133.8,746,998],lonLabels:false,base:LT,
 above:[[cBound10,ML],[cBound20,MD],[cBound30,DK]],rings:[],
 cbar:{levels:cbarC,y:[1018,1036],tips:[125.7,1127],labelY:1045.5},
 prof:{lat:profCLat,val:profCVal,box:[1189.5,1453.6,726.7,991],dom:[-40,0],major:d3.range(-40,1,10),minor:d3.range(-40,0.1,2),fmt:hyphen(d3.format('d'))}},
{letter:'D',letterXY:[1,1082.7],title:'T500 DJF  LH-EH',titleXY:[155.6,1088],unitXY:[1123,1084],
 map:[128.7,1136,1092.7,1344.3],lonLabels:true,base:P1,
 rings:[[dRegion2,P2],[dLightSpot,P1],[dBlueOval,LT],[dBlueSliver,LT],[dBandWest,P3],[dBandAfrica,P3],[dBandAsia,P3],[dCoreWest,P4],[dCoreEast,P4]],
 hatch:{area:dHatchArea,start:133},
 cbar:{levels:cbarB,y:[1386.7,1404],tips:[128.6,1129.5],labelY:1414},
 prof:{lat:profDLat,val:profDVal,box:[1198,1462,1099,1363],dom:[0.4,1.8],major:d3.range(0.4,1.81,0.2),minor:d3.range(0.4,1.81,0.05),fmt:hyphen(d3.format('.1f'))}}
];

// ---------- drawing
const FS=18.4;
const svg=d3.select('#chart').append('svg').attr('width',1500).attr('height',1427).style('display','block');
const styleAxis=(g,w=1.6)=>{g.selectAll('.domain').remove();g.selectAll('.tick line').attr('stroke','#000').attr('stroke-width',w);
  g.selectAll('text').attr('font-size',FS).attr('fill','#111').attr('font-family','"Liberation Sans",Arial,sans-serif');};

panels.forEach((p,i)=>{
  const [l,r,t,b]=p.map;
  const x=d3.scaleLinear().domain([-180,180]).range([l,r]);
  const y=d3.scaleLinear().domain([0,90]).range([b,t]);
  const g=svg.append('g');
  g.append('text').attr('x',p.letterXY[0]).attr('y',p.letterXY[1]).attr('font-size',23).attr('font-weight','bold').text(p.letter);
  g.append('text').attr('x',p.titleXY[0]).attr('y',p.titleXY[1]).attr('font-size',FS).attr('xml:space','preserve').text(p.title);
  g.append('text').attr('x',p.unitXY[0]).attr('y',p.unitXY[1]).attr('font-size',FS).attr('text-anchor','end').text('Celsius degree');

  // map
  const clipId='mapclip'+i;
  svg.append('defs').append('clipPath').attr('id',clipId).append('rect').attr('x',l).attr('y',t).attr('width',r-l).attr('height',b-t);
  const m=g.append('g').attr('clip-path',`url(#${clipId})`);
  m.append('rect').attr('x',l).attr('y',t).attr('width',r-l).attr('height',b-t).attr('fill',levelColors[p.base]);
  const area=d3.area().x(d=>x(d[0])).y0(y(100)).y1(d=>y(d[1])).curve(d3.curveCatmullRom.alpha(0.5));
  const blob=d3.line().x(d=>x(d[0])).y(d=>y(d[1])).curve(d3.curveCatmullRomClosed.alpha(0.5));
  const linear=d3.line().x(d=>x(d[0])).y(d=>y(d[1]));
  (p.above||[]).forEach(([bd,c])=>m.append('path').attr('d',area(bd)).attr('fill',levelColors[c]));
  (p.rings||[]).forEach(([ring,c])=>m.append('path').attr('d',blob(ring)).attr('fill',levelColors[c]));
  // coast
  m.append('g').selectAll('path').data(allCoasts).join('path').attr('d',linear).attr('fill','none')
    .attr('stroke','#000').attr('stroke-width',1.4).attr('stroke-linejoin','round');
  // hatching
  if(p.hatch){
    const hid='hatch'+i;
    const cp=svg.append('defs').append('clipPath').attr('id',hid);
    let dd;
    if(p.hatch.area){dd=linear(p.hatch.area)+'Z';}
    else{dd=`M${l-5},${t-5}H${r+5}V${b+5}H${l-5}Z`+p.hatch.gaps.map(a=>linear(a)+'Z').join('');}
    cp.append('path').attr('d',dd).attr('clip-rule','evenodd');
    const stepLon=17.75/2.8, riseLon=92.5;           // line spacing and slant, in degrees
    const starts=d3.range(-40,60).map(k=>x.invert(p.hatch.start)+k*stepLon).filter(s=>s+riseLon>=-180&&s<=180);
    m.append('g').attr('clip-path',`url(#${hid})`).selectAll('line').data(starts).join('line')
      .attr('x1',d=>x(d)).attr('y1',y(0)).attr('x2',d=>x(d+riseLon)).attr('y2',y(90))
      .attr('stroke','#000').attr('stroke-width',1.1);
  }
  // frame
  g.append('rect').attr('x',l).attr('y',t).attr('width',r-l).attr('height',b-t).attr('fill','none').attr('stroke','#000').attr('stroke-width',1.8);
  g.append('line').attr('x1',l).attr('x2',r).attr('y1',t).attr('y2',t).attr('stroke','#000').attr('stroke-width',2.6);
  g.append('line').attr('x1',l).attr('x2',r).attr('y1',b).attr('y2',b).attr('stroke','#000').attr('stroke-width',2.6);
  // axes
  g.append('g').attr('transform',`translate(${l},0)`).call(d3.axisLeft(y).tickValues(latMinor).tickSize(5).tickFormat('')).call(styleAxis,1.2);
  g.append('g').attr('transform',`translate(${l},0)`).call(d3.axisLeft(y).tickValues(latMajor).tickSize(10).tickPadding(2).tickFormat(latLabel)).call(styleAxis);
  g.append('g').attr('transform',`translate(0,${b})`).call(d3.axisBottom(x).tickValues(lonMinor).tickSize(4).tickFormat('')).call(styleAxis,1.2);
  const ax=g.append('g').attr('transform',`translate(0,${b})`).call(d3.axisBottom(x).tickValues(lonMajor).tickSize(8).tickPadding(9).tickFormat(p.lonLabels?lonLabel:'')).call(styleAxis);
  ax.selectAll('text').attr('dx',d=>d===180?-2:(d===-180?0:-3));

  // colour bar
  const cb=p.cbar, lv=cb.levels, st=lv[1]-lv[0];
  const cx=d3.scaleLinear().domain([lv[0]-st,lv[lv.length-1]+st]).range(cb.tips);
  const [cy0,cy1]=cb.y, cym=(cy0+cy1)/2;
  const bar=g.append('g');
  bar.selectAll('rect').data(d3.pairs(lv)).join('rect').attr('x',d=>cx(d[0])).attr('y',cy0).attr('width',d=>cx(d[1])-cx(d[0])).attr('height',cy1-cy0)
    .attr('fill',(d,k)=>levelColors[k+1]).attr('stroke','#111').attr('stroke-width',1.1);
  const tri=d3.line();
  bar.append('path').attr('d',tri([[cx(lv[0]),cy0],[cb.tips[0],cym],[cx(lv[0]),cy1]])+'Z').attr('fill',levelColors[0]).attr('stroke','#111').attr('stroke-width',1.1);
  bar.append('path').attr('d',tri([[cx(lv[8]),cy0],[cb.tips[1],cym],[cx(lv[8]),cy1]])+'Z').attr('fill',levelColors[9]).attr('stroke','#111').attr('stroke-width',1.1);
  bar.selectAll('text').data(lv).join('text').attr('x',d=>cx(d)-(d<0?4:0)).attr('y',cb.labelY).attr('dy','.36em')
    .attr('text-anchor','middle').attr('font-size',FS).text(d=>d);

  // profile
  const q=p.prof,[pl,pr,pt,pb]=q.box;
  const px=d3.scaleLinear().domain(q.dom).range([pl,pr]);
  const py=d3.scaleLinear().domain([0,90]).range([pb,pt]);
  g.append('g').attr('transform',`translate(${pl},0)`).call(d3.axisLeft(py).tickValues(latMinor).tickSize(4).tickFormat('')).call(styleAxis,1.2);
  g.append('g').attr('transform',`translate(${pl},0)`).call(d3.axisLeft(py).tickValues(latMajor).tickSize(8).tickPadding(4).tickFormat(latLabel)).call(styleAxis);
  g.append('g').attr('transform',`translate(0,${pb})`).call(d3.axisBottom(px).tickValues(q.minor).tickSize(4).tickFormat('')).call(styleAxis,1.2);
  const pa=g.append('g').attr('transform',`translate(0,${pb})`).call(d3.axisBottom(px).tickValues(q.major).tickSize(8).tickPadding(5).tickFormat(q.fmt)).call(styleAxis);
  pa.selectAll('text').attr('dx',d=>d<0?-3:0);
  g.append('rect').attr('x',pl).attr('y',pt).attr('width',pr-pl).attr('height',pb-pt).attr('fill','none').attr('stroke','#000').attr('stroke-width',2);
  g.append('line').attr('x1',pl).attr('x2',pr).attr('y1',pt).attr('y2',pt).attr('stroke','#000').attr('stroke-width',2.6);
  g.append('line').attr('x1',pl).attr('x2',pr).attr('y1',pb).attr('y2',pb).attr('stroke','#000').attr('stroke-width',2.4);
  g.append('path').datum(d3.zip(q.val,q.lat))
    .attr('d',d3.line().x(d=>px(d[0])).y(d=>py(d[1])).curve(d3.curveBasis))
    .attr('fill','none').attr('stroke','#000').attr('stroke-width',2.6);
});
</script></body></html>
